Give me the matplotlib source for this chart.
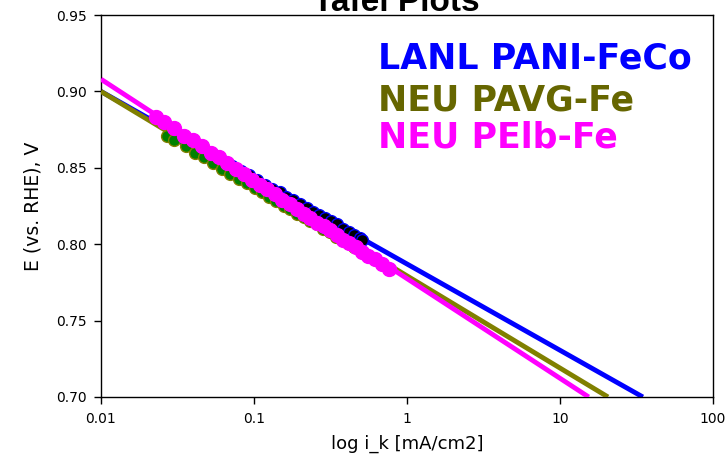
import matplotlib
matplotlib.use("Agg")
import matplotlib.pyplot as plt
from matplotlib.ticker import FixedLocator, NullLocator

plt.rcParams['font.family'] = ['DejaVu Sans']

# LANL PANI-FeCo data (black dots) and fit line
lanl_i = [0.030, 0.035, 0.041, 0.048, 0.055, 0.063, 0.072, 0.082, 0.093,
          0.105, 0.118, 0.132, 0.147, 0.163, 0.181, 0.200, 0.221, 0.243,
          0.267, 0.293, 0.320, 0.350, 0.382, 0.416, 0.452, 0.490, 0.510]
lanl_E = [0.872, 0.869, 0.865, 0.861, 0.858, 0.854, 0.851, 0.848, 0.845,
          0.842, 0.839, 0.836, 0.834, 0.831, 0.829, 0.826, 0.824, 0.821,
          0.819, 0.817, 0.815, 0.813, 0.810, 0.808, 0.806, 0.804, 0.803]
lanl_fit_i = [0.01, 34.8]
lanl_fit_E = [0.900, 0.700]

# NEU PAVG-Fe data (green dots) and fit line
pavg_i = [0.027, 0.030, 0.036, 0.041, 0.047, 0.054, 0.062, 0.070, 0.080,
          0.090, 0.101, 0.113, 0.126, 0.140, 0.156, 0.173, 0.192, 0.212,
          0.234, 0.258, 0.284, 0.312, 0.342, 0.375, 0.410, 0.450, 0.490]
pavg_E = [0.871, 0.868, 0.864, 0.860, 0.857, 0.853, 0.849, 0.846, 0.843,
          0.840, 0.837, 0.834, 0.831, 0.828, 0.825, 0.823, 0.820, 0.818,
          0.815, 0.813, 0.810, 0.808, 0.805, 0.803, 0.801, 0.798, 0.796]
pavg_fit_i = [0.01, 20.6]
pavg_fit_E = [0.900, 0.700]

# NEU PElb-Fe data (magenta dots) and fit line
pelb_i = [0.023, 0.026, 0.030, 0.035, 0.040, 0.046, 0.052, 0.059, 0.067,
          0.076, 0.086, 0.097, 0.109, 0.122, 0.137, 0.153, 0.171, 0.190,
          0.211, 0.234, 0.259, 0.286, 0.315, 0.347, 0.382, 0.420, 0.462,
          0.508, 0.560, 0.620, 0.690, 0.760]
pelb_E = [0.883, 0.880, 0.876, 0.871, 0.868, 0.864, 0.860, 0.857, 0.853,
          0.849, 0.846, 0.842, 0.839, 0.836, 0.833, 0.829, 0.826, 0.823,
          0.820, 0.817, 0.814, 0.812, 0.809, 0.806, 0.803, 0.801, 0.798,
          0.795, 0.792, 0.790, 0.787, 0.784]
pelb_fit_i = [0.01, 15.4]
pelb_fit_E = [0.908, 0.700]

x_ticks = [0.01, 0.1, 1, 10, 100]
x_ticklabels = ['0.01', '0.1', '1', '10', '100']
y_ticks = [0.70, 0.75, 0.80, 0.85, 0.90, 0.95]

fig = plt.figure(figsize=(7.28, 4.62), dpi=100)
ax = fig.add_axes([0.1387, 0.1407, 0.8407, 0.8268])

# draw order: blue first, then olive/green, then magenta on top
ax.plot(lanl_fit_i, lanl_fit_E, color='#0000ff', lw=3.5, solid_capstyle='butt', zorder=2)
ax.plot(lanl_i, lanl_E, 'o', ms=8.5, mfc='black', mec='#0000ff', mew=1, zorder=3)
ax.plot(pavg_fit_i, pavg_fit_E, color='#808000', lw=3.5, solid_capstyle='butt', zorder=4)
ax.plot(pavg_i, pavg_E, 'o', ms=8.5, mfc='#008000', mec='#808000', mew=1, zorder=5)
ax.plot(pelb_fit_i, pelb_fit_E, color='#ff00ff', lw=3.5, solid_capstyle='butt', zorder=6)
ax.plot(pelb_i, pelb_E, 'o', ms=10, mfc='#ff00ff', mec='#ff00ff', mew=1, zorder=7)

ax.set_xscale('log')
ax.set_xlim(0.01, 100)
ax.set_ylim(0.70, 0.95)
ax.xaxis.set_major_locator(FixedLocator(x_ticks))
ax.set_xticklabels(x_ticklabels)
ax.xaxis.set_minor_locator(NullLocator())
ax.set_yticks(y_ticks)
ax.set_yticklabels(['%.2f' % v for v in y_ticks])
ax.tick_params(direction='out', length=5, width=1, labelsize=10)
ax.tick_params(axis='x', pad=6)
ax.tick_params(axis='y', pad=5)
for s in ax.spines.values():
    s.set_linewidth(1)

ax.set_xlabel('log i_k [mA/cm2]', fontsize=13, labelpad=6)
ax.set_ylabel('E (vs. RHE), V', fontsize=13.5, labelpad=10)

# legend as coloured text
ax.text(0.4526, 0.861, 'LANL PANI-FeCo', transform=ax.transAxes, color='#0000ff',
        fontsize=25, fontweight='bold', va='baseline')
ax.text(0.4526, 0.751, 'NEU PAVG-Fe', transform=ax.transAxes, color='#666600',
        fontsize=25, fontweight='bold', va='baseline')
ax.text(0.4526, 0.652, 'NEU PElb-Fe', transform=ax.transAxes, color='#ff00ff',
        fontsize=25, fontweight='bold', va='baseline')

# title mostly cut off at the top of the image
fig.text(0.545, 1 - 11 / 462, 'Tafel Plots', ha='center', va='baseline',
         fontsize=24, fontweight='bold', family='Liberation Sans')

fig.savefig('out.png', dpi=100)
